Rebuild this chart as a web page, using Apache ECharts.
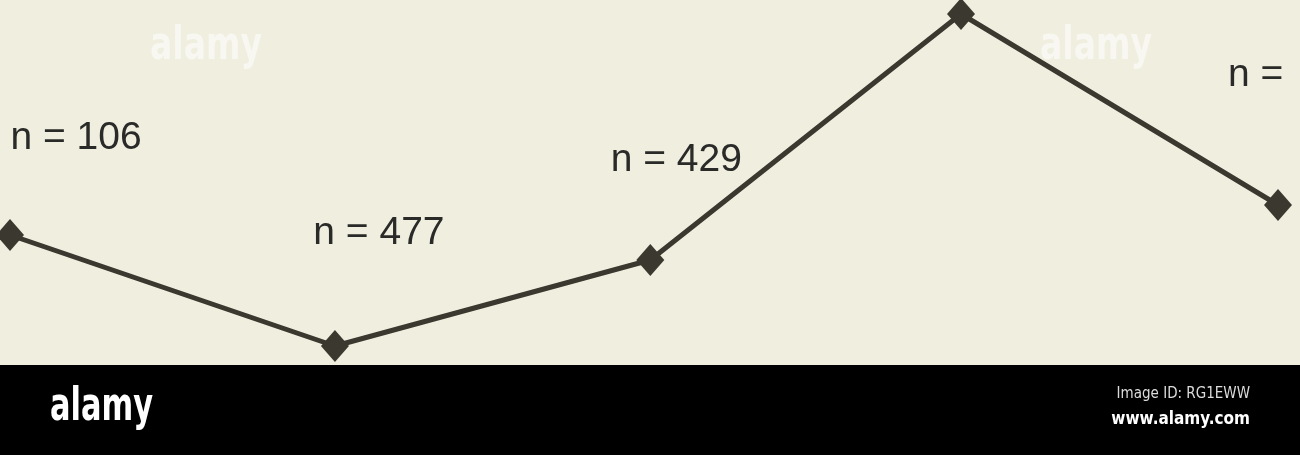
<!DOCTYPE html>
<html><head><meta charset="utf-8">
<script src="https://cdn.jsdelivr.net/npm/echarts@6/dist/echarts.min.js"></script>
<style>html,body{margin:0;padding:0;background:#efeee0}#c{width:1300px;height:455px}</style>
</head><body><div id="c"></div>
<script>
const xPositions = [0, 1.025, 2.02, 3.0, 4.0];
const values = [130, 19, 105, 351, 160];
const pointLabels = ['n = 106', 'n = 477', 'n = 429', '', 'n = '];
const labelOffsets = [[66, -97], [44, -113], [26, -100], [0, 0], [-17, -130]];

const chart = echarts.init(document.getElementById('c'));
chart.setOption({
  backgroundColor: '#efeedf',
  animation: false,
  grid: { left: 10, right: 22, top: 0, bottom: 90 },
  xAxis: { type: 'value', min: 0, max: 4, show: false },
  yAxis: { type: 'value', min: 0, max: 365, show: false },
  series: [{
    type: 'line',
    data: values.map((v, i) => ({
      value: [xPositions[i], v],
      label: {
        show: pointLabels[i] !== '',
        formatter: pointLabels[i],
        offset: labelOffsets[i],
        position: 'inside',
        fontSize: 39,
        fontFamily: 'Liberation Sans, Arial, sans-serif',
        color: '#2a2a28'
      }
    })),
    symbol: 'diamond',
    symbolSize: [28, 32],
    lineStyle: { color: '#3a382f', width: 5 },
    itemStyle: { color: '#3a382f' },
    z: 5
  }],
  graphic: [
    { type: 'text', left: 150, top: 24, silent: true, z: 1, scaleX: 0.8,
      style: { text: 'alamy', fontSize: 46, fontWeight: 'bold', fontFamily: 'DejaVu Sans Condensed, sans-serif', fill: 'rgba(255,255,255,0.55)' } },
    { type: 'text', left: 1040, top: 24, silent: true, z: 1, scaleX: 0.8,
      style: { text: 'alamy', fontSize: 46, fontWeight: 'bold', fontFamily: 'DejaVu Sans Condensed, sans-serif', fill: 'rgba(255,255,255,0.55)' } },
    { type: 'rect', left: 0, top: 365, silent: true, z: 10,
      shape: { width: 1300, height: 90 }, style: { fill: '#000' } },
    { type: 'text', x: 50, y: 384, silent: true, z: 11, scaleX: 0.72,
      style: { text: 'alamy', fontSize: 47, fontWeight: 'bold', fontFamily: 'DejaVu Sans Condensed, sans-serif', fill: '#fff' } },
    { type: 'text', right: 50, top: 387, silent: true, z: 11,
      style: { text: 'Image ID: RG1EWW', fontSize: 15, fontFamily: 'DejaVu Sans Condensed, sans-serif', fill: '#ddd' } },
    { type: 'text', right: 50, top: 411, silent: true, z: 11,
      style: { text: 'www.alamy.com', fontSize: 17, fontWeight: 'bold', fontFamily: 'DejaVu Sans Condensed, sans-serif', fill: '#fff' } }
  ]
});
</script></body></html>
